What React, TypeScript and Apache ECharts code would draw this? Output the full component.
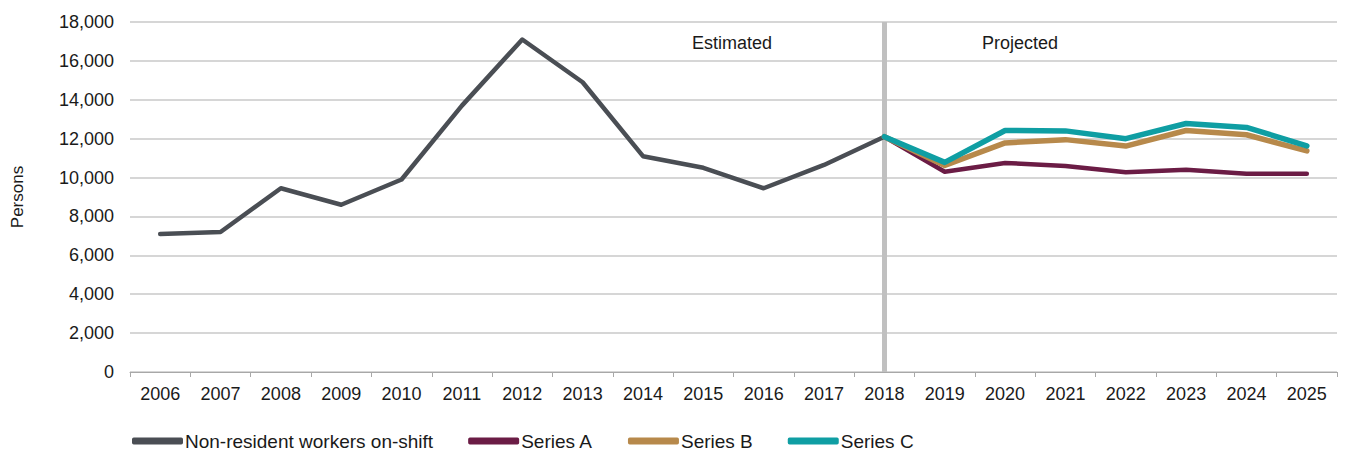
import React, { useEffect, useRef } from "react";
import * as echarts from "echarts";

const years = ["2006","2007","2008","2009","2010","2011","2012","2013","2014","2015","2016","2017","2018","2019","2020","2021","2022","2023","2024","2025"];
const nonResident = [7100, 7200, 9450, 8600, 9900, 13700, 17100, 14900, 11100, 10500, 9450, 10650, 12100, null, null, null, null, null, null, null];
const seriesA = [null, null, null, null, null, null, null, null, null, null, null, null, 12100, 10300, 10750, 10600, 10270, 10400, 10200, 10200];
const seriesB = [null, null, null, null, null, null, null, null, null, null, null, null, 12100, 10620, 11780, 11950, 11620, 12420, 12200, 11370];
const seriesC = [null, null, null, null, null, null, null, null, null, null, null, null, 12100, 10780, 12420, 12400, 12000, 12780, 12580, 11630];
const yTicks = { min: 0, max: 18000, interval: 2000 };
const dividerYear = "2018";

const FONT = "'Liberation Sans', Arial, sans-serif";
const TXT = "#1a1a1a";

export default function App() {
  const ref = useRef<HTMLDivElement>(null);
  useEffect(() => {
    if (!ref.current) return;
    const chart = echarts.init(ref.current, undefined, { renderer: "svg" });
    const mk = (name: string, data: (number | null)[], color: string, width: number) => ({
      name,
      type: "line",
      data,
      showSymbol: false,
      symbol: "none",
      connectNulls: false,
      lineStyle: { color, width, cap: "round", join: "round" },
      itemStyle: { color },
    });
    chart.setOption({
      animation: false,
      textStyle: { fontFamily: FONT, color: TXT },
      grid: { left: 130, right: 9, top: 22, bottom: 80, containLabel: false },
      legend: {
        left: 127,
        top: 426,
        icon: "roundRect",
        itemWidth: 51,
        itemHeight: 7,
        itemGap: 35,
        textStyle: { fontSize: 19, lineHeight: 20, color: TXT, fontFamily: FONT, padding: [0, 0, 0, -3] },
        data: ["Non-resident workers on-shift", "Series A", "Series B", "Series C"],
      },
      xAxis: {
        type: "category",
        data: years,
        boundaryGap: true,
        axisLine: { lineStyle: { color: "#a8a8a8", width: 1 } },
        axisTick: { show: true, length: 5, lineStyle: { color: "#a8a8a8" } },
        axisLabel: { fontSize: 18, color: TXT, margin: 13, fontFamily: FONT },
      },
      yAxis: {
        type: "value",
        min: yTicks.min,
        max: yTicks.max,
        interval: yTicks.interval,
        name: "Persons",
        nameLocation: "middle",
        nameGap: 104,
        nameRotate: 90,
        nameTextStyle: { fontSize: 17, color: TXT, fontFamily: FONT },
        axisLine: { show: false },
        axisTick: { show: false },
        axisLabel: {
          fontSize: 18,
          color: TXT,
          margin: 16,
          fontFamily: FONT,
          formatter: (v: number) => v.toLocaleString("en-US"),
        },
        splitLine: { lineStyle: { color: "#c8c8c8", width: 1.5 } },
      },
      graphic: [
        {
          type: "text",
          x: 732,
          y: 43,
          style: { text: "Estimated", fill: TXT, font: `18px ${FONT}`, textAlign: "center", textVerticalAlign: "middle" },
        },
        {
          type: "text",
          x: 1020,
          y: 43,
          style: { text: "Projected", fill: TXT, font: `18px ${FONT}`, textAlign: "center", textVerticalAlign: "middle" },
        },
      ],
      series: [
        {
          ...mk("Non-resident workers on-shift", nonResident, "#4a4e54", 4.5),
          markLine: {
            silent: true,
            symbol: "none",
            label: { show: false },
            lineStyle: { color: "#c0c0c0", width: 5, type: "solid" },
            data: [{ xAxis: dividerYear }],
            z: 1,
          },
        },
        mk("Series A", seriesA, "#6b1c45", 4.5),
        mk("Series B", seriesB, "#b7894b", 5.5),
        mk("Series C", seriesC, "#0f9ea3", 5.5),
      ],
    });
    return () => chart.dispose();
  }, []);
  return <div ref={ref} style={{ width: 1346, height: 452, position: "absolute", left: 0, top: 0 }} />;
}
